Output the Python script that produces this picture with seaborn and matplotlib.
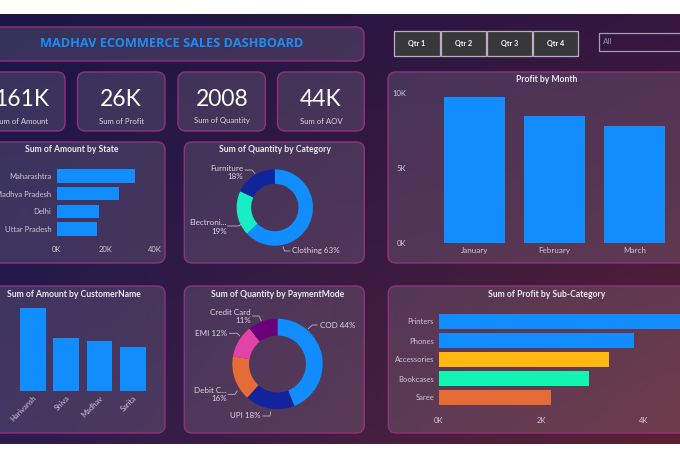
import numpy as np
import pandas as pd
import matplotlib
matplotlib.use("Agg")
import matplotlib.pyplot as plt
import seaborn as sns
from matplotlib.patches import FancyBboxPatch, Rectangle
from matplotlib.colors import to_rgb

# ---------------- data ----------------
dashboard_title = "MADHAV ECOMMERCE SALES DASHBOARD"
kpi_values = ["161K", "26K", "2008", "44K"]
kpi_labels = ["Sum of Amount", "Sum of Profit", "Sum of Quantity", "Sum of AOV"]
quarters = ["Qtr 1", "Qtr 2", "Qtr 3", "Qtr 4"]
slicer_text = "All"

months = ["January", "February", "March"]
month_profit = [9730, 8490, 7800]

states = ["Maharashtra", "Madhya Pradesh", "Delhi", "Uttar Pradesh"]
state_amount = [32000, 25500, 17200, 16500]

categories = ["Clothing", "Electronics", "Furniture"]
category_display = ["Clothing", "Electroni...", "Furniture"]
category_qty = [1265, 381, 362]

customers = ["Harivansh", "Shiva", "Madhav", "Sarita"]
customer_amount = [9200, 5850, 5550, 4850]

pay_modes = ["COD", "UPI", "Debit Card", "EMI", "Credit Card"]
pay_display = ["COD", "UPI", "Debit C...", "EMI", "Credit Card"]
pay_qty = [882, 356, 322, 234, 214]

subcats = ["Printers", "Phones", "Accessories", "Bookcases", "Saree"]
subcat_profit = [5000, 3805, 3320, 2930, 2180]

# ---------------- style ----------------
sns.set_theme(style="white")
plt.rcParams["font.family"] = ["Lato", "DejaVu Sans"]

BLUE = "#118DFF"
NAVY = "#12239E"
TEAL = "#17EEC6"
ORANGE = "#E66C37"
PINK = "#E044A7"
PURPLE = "#6B007B"
GOLD = "#FFB80F"
MINT = "#12F5B0"
TXT = "#ECE8F0"
TICK = "#CFC7D8"
EDGE = "#92307F"
NOEDGE = dict(linewidth=0, edgecolor="none")

W, H = 680, 459
fig = plt.figure(figsize=(W / 100, H / 100), dpi=100)
fig.patch.set_facecolor("white")

# background axes in pixel coordinates
bg = fig.add_axes([0, 0, 1, 1])
bg.set_xlim(0, W)
bg.set_ylim(H, 0)
bg.axis("off")

TL, TR = np.array(to_rgb("#1b1646")), np.array(to_rgb("#36163f"))
BL, BR = np.array(to_rgb("#2a1c4e")), np.array(to_rgb("#5c2232"))
ys = np.linspace(0, 1, 120)[:, None, None]
xs = np.linspace(0, 1, 240)[None, :, None]
grad = TL * (1 - xs) * (1 - ys) + TR * xs * (1 - ys) + BL * (1 - xs) * ys + BR * xs * ys
bg.imshow(grad, extent=(0, W, 444, 14), aspect="auto", interpolation="bilinear", zorder=0)
bg.set_xlim(0, W)
bg.set_ylim(H, 0)


def panel(x0, y0, x1, y1, r=8):
    p = FancyBboxPatch((x0, y0), x1 - x0, y1 - y0,
                       boxstyle=f"round,pad=0,rounding_size={r}",
                       facecolor=(1, 1, 1, 0.12), edgecolor=EDGE, linewidth=1.0, zorder=2)
    bg.add_patch(p)


panel(-12, 27, 364, 61)
kpi_boxes = [(-30, 72, 65, 131), (77.5, 72, 165, 131), (178, 72, 265.4, 131), (277.5, 72, 364.3, 131)]
for b in kpi_boxes:
    panel(*b)
panel(388, 72, 700, 263)
panel(-12, 142, 165, 263)
panel(184.3, 142, 364.3, 263)
panel(-12, 286, 165, 433)
panel(184.3, 286, 364.3, 433)
panel(388.3, 286, 700, 433)

# quarter buttons
qbtn = [(394, 440), (441, 486), (487, 532), (533, 578)]
for (a, b), q in zip(qbtn, quarters):
    bg.add_patch(Rectangle((a, 31), b - a, 25, facecolor="#38373a", edgecolor="#b9aec2", linewidth=0.9, zorder=3))
bg.add_patch(Rectangle((599, 33), 120, 17.7, facecolor="none", edgecolor="#a99cb3", linewidth=0.9, zorder=3))


def px_axes(x0, y0, x1, y1):
    ax = fig.add_axes([x0 / W, 1 - y1 / H, (x1 - x0) / W, (y1 - y0) / H])
    ax.set_facecolor("none")
    for s in ax.spines.values():
        s.set_visible(False)
    return ax


# ---------------- Profit by Month ----------------
ax = px_axes(434.5, 93, 674.5, 243)
sns.barplot(x=months, y=month_profit, color=BLUE, saturation=1, width=0.76, ax=ax, **NOEDGE)
ax.set_xlim(-0.5, 2.5)
ax.set_ylim(0, 10000)
ax.set_yticks([0, 5000, 10000])
ax.set_yticklabels(["0K", "5K", "10K"])
ax.tick_params(axis="y", length=0, pad=20.5, labelsize=5.5, labelcolor=TICK)
ax.tick_params(axis="x", length=0, pad=3, labelsize=5.8, labelcolor=TICK)
ax.set_xlabel(""); ax.set_ylabel("")

# ---------------- Amount by State ----------------
ax = px_axes(56.7, 167.1, 154.5, 238)
sns.barplot(x=state_amount, y=states, orient="h", color=BLUE, saturation=1, width=0.76, ax=ax, **NOEDGE)
ax.set_xlim(0, 40000)
ax.set_ylim(3.5, -0.5)
ax.set_xticks([0, 20000, 40000])
ax.set_xticklabels(["0K", "20K", "40K"])
ax.tick_params(axis="x", length=0, pad=6, labelsize=5.5, labelcolor=TICK)
ax.tick_params(axis="y", length=0, pad=4, labelsize=5.5, labelcolor=TICK)
ax.set_xlabel(""); ax.set_ylabel("")

# ---------------- Amount by CustomerName ----------------
ax = px_axes(16.1, 300.8, 149.5, 391.3)
sns.barplot(x=customers, y=customer_amount, color=BLUE, saturation=1, width=0.77, ax=ax, **NOEDGE)
ax.set_xlim(-0.5, 3.5)
ax.set_ylim(0, 10000)
ax.set_yticks([])
ax.tick_params(axis="x", length=0, pad=2, labelsize=5.5, labelcolor=TICK)
for lab in ax.get_xticklabels():
    lab.set_rotation(45)
    lab.set_ha("right")
    lab.set_rotation_mode("anchor")
ax.set_xlabel(""); ax.set_ylabel("")

# ---------------- Profit by Sub-Category ----------------
ax = px_axes(439, 312, 680, 407)
sns.barplot(x=subcat_profit, y=subcats, hue=subcats, palette=[BLUE, BLUE, GOLD, MINT, ORANGE],
            legend=False, orient="h", saturation=1, width=0.79, ax=ax, **NOEDGE)
ax.set_xlim(0, 241 / 51.25 * 1000)
ax.set_ylim(4.5, -0.5)
ax.set_xticks([0, 2000, 4000])
ax.set_xticklabels(["0K", "2K", "4K"])
ax.tick_params(axis="x", length=0, pad=7, labelsize=5.5, labelcolor=TICK)
ax.tick_params(axis="y", length=0, pad=3.6, labelsize=5.5, labelcolor=TICK)
ax.set_xlabel(""); ax.set_ylabel("")


# ---------------- donuts ----------------
def donut(cx, cy, r, values, colors, width):
    ax = px_axes(cx - r, cy - r, cx + r, cy + r)
    ax.pie(values, colors=colors, startangle=90, counterclock=False,
           wedgeprops=dict(width=width, edgecolor="none"), radius=1)
    ax.set_xlim(-1, 1)
    ax.set_ylim(-1, 1)
    ax.set_aspect("auto")
    return ax


donut(274.8, 207.5, 38.2, category_qty, [BLUE, TEAL, NAVY], 0.38)
donut(277.5, 364, 45.2, pay_qty, [BLUE, NAVY, ORANGE, PINK, PURPLE], 0.37)

# ---------------- overlay text ----------------
ov = fig.add_axes([0, 0, 1, 1], zorder=10)
ov.set_xlim(0, W)
ov.set_ylim(H, 0)
ov.axis("off")
ov.patch.set_alpha(0)

ov.text(172, 43.5, dashboard_title, color="#1B8DF2", fontsize=9.2, fontweight="bold",
        family=["Open Sans", "DejaVu Sans"], ha="center", va="center")

kpi_centers = [22, 121.3, 222, 321]
for cx, v, l in zip(kpi_centers, kpi_values, kpi_labels):
    ov.text(cx, 100, v, color="white", fontsize=16.5, ha="center", va="center")
    ov.text(cx, 121, l, color="#DCD6E4", fontsize=5.6, ha="center", va="center")

for (a, b), q in zip(qbtn, quarters):
    ov.text((a + b) / 2, 43.5, q, color="white", fontsize=5.2, fontweight="bold", ha="center", va="center")
ov.text(603, 42, slicer_text, color="#9c91aa", fontsize=5.8, ha="left", va="center")

titles = [
    (546.7, 79.5, "Profit by Month"),
    (71.7, 150, "Sum of Amount by State"),
    (275, 150, "Sum of Quantity by Category"),
    (74, 294.5, "Sum of Amount by CustomerName"),
    (277.8, 294.5, "Sum of Quantity by PaymentMode"),
    (546.7, 294.5, "Sum of Profit by Sub-Category"),
]
for x, y, t in titles:
    ov.text(x, y, t, color=TXT, fontsize=6.2, fontweight="bold", ha="center", va="center")


def pct(vals):
    s = sum(vals)
    return [f"{round(v / s * 100)}%" for v in vals]


LBL = "#DDD6E4"
LINE = "#BDB4C6"
cat_pct = pct(category_qty)
pay_pct = pct(pay_qty)

# category labels: (index, x, y, ha, two_line, leader)
cat_layout = [
    (2, 243, 172.3, "right", True, [(245, 170), (252, 170), (255, 173.5)]),
    (1, 226.5, 227, "right", True, [(227.5, 226), (239, 226), (241.5, 224)]),
    (0, 292, 250.7, "left", False, [(283, 246.5), (284.5, 251), (290, 251)]),
]
pay_layout = [
    (4, 250.7, 316.7, "right", True, [(252.3, 316), (259, 316), (261.3, 321)]),
    (3, 227.3, 333.3, "right", False, [(229.3, 333.3), (237.3, 333.3), (239.7, 336)]),
    (0, 320, 325, "left", False, [(317.3, 325), (312.3, 325), (308, 329)]),
    (2, 226.7, 394.3, "right", True, [(228, 394.3), (235, 394.3), (237.3, 390.7)]),
    (1, 260.7, 416, "right", False, [(262.7, 416), (270, 416), (270.7, 411.7)]),
]


def draw_labels(layout, names, pcts):
    for i, x, y, ha, two, lead in layout:
        txt = f"{names[i]}\n{pcts[i]}" if two else f"{names[i]} {pcts[i]}"
        ov.text(x, y, txt, color=LBL, fontsize=5.8, ha=ha, va="center",
                multialignment=ha, linespacing=1.25)
        xs_, ys_ = zip(*lead)
        ov.plot(xs_, ys_, color=LINE, lw=0.6)


draw_labels(cat_layout, category_display, cat_pct)
draw_labels(pay_layout, pay_display, pay_pct)

fig.savefig("out.png", dpi=100, facecolor="white")
